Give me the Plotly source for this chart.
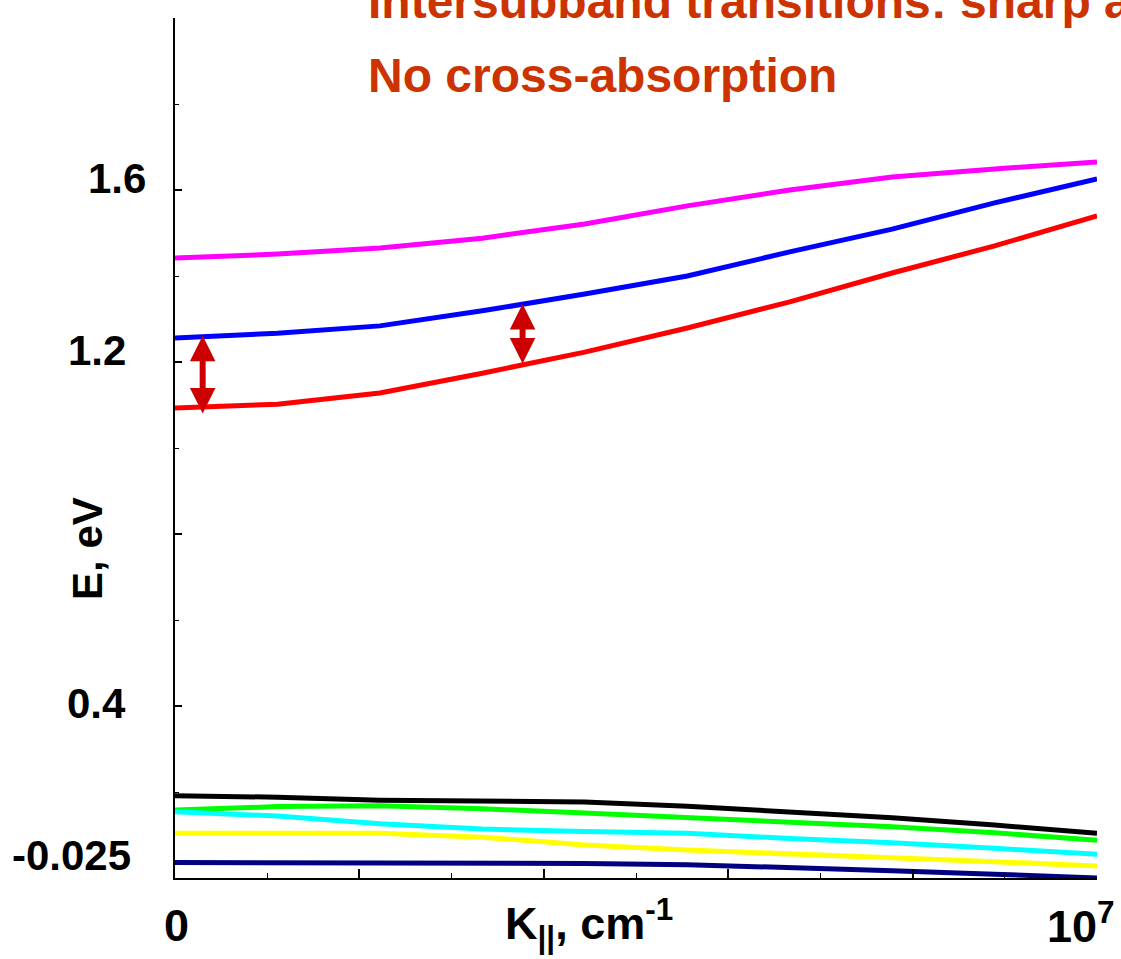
import plotly.graph_objects as go

# In-plane wave vector K|| (cm^-1)
k_vals = [0, 1.111e6, 2.222e6, 3.333e6, 4.444e6, 5.556e6, 6.667e6, 7.778e6, 8.889e6, 1.0e7]

# Conduction subbands (eV, plot scale)
e_magenta = [1.442, 1.451, 1.465, 1.488, 1.521, 1.563, 1.600, 1.630, 1.649, 1.665]
e_blue = [1.256, 1.267, 1.284, 1.319, 1.358, 1.400, 1.456, 1.509, 1.570, 1.626]
e_red = [1.093, 1.102, 1.128, 1.174, 1.223, 1.279, 1.340, 1.407, 1.470, 1.540]

# Valence subbands (eV, plot scale)
e_black = [0.191, 0.188, 0.181, 0.179, 0.177, 0.167, 0.154, 0.140, 0.123, 0.104]
e_green = [0.158, 0.166, 0.168, 0.161, 0.151, 0.140, 0.131, 0.119, 0.105, 0.088]
e_cyan = [0.154, 0.144, 0.126, 0.114, 0.108, 0.104, 0.092, 0.082, 0.069, 0.055]
e_yellow = [0.104, 0.104, 0.104, 0.095, 0.077, 0.065, 0.055, 0.047, 0.038, 0.028]
e_navy = [0.036, 0.036, 0.036, 0.035, 0.034, 0.031, 0.025, 0.017, 0.009, 0.000]

# Intersubband transitions: (K, upper E, lower E)
transitions = [(0.30e6, 1.261, 1.077), (3.77e6, 1.335, 1.193)]

# Tick labels placed beside the energy axis: (E, label, x offset px, y offset px)
y_labels = [(1.6, "1.6", -27, 12), (1.2, "1.2", -47, 12), (0.4, "0.4", -47, 3), (0.0, "-0.025", -42, 23)]

FONT = "Liberation Sans, Arial, sans-serif"

series = [
    (e_magenta, "#FF00FF"),
    (e_blue, "#0000FF"),
    (e_red, "#FF0000"),
    (e_black, "#000000"),
    (e_green, "#00FF00"),
    (e_cyan, "#00FFFF"),
    (e_yellow, "#FFFF00"),
    (e_navy, "#000080"),
]

fig = go.Figure()
for vals, col in series:
    fig.add_trace(go.Scatter(x=k_vals, y=vals, mode="lines",
                             line=dict(color=col, width=5), showlegend=False,
                             hoverinfo="skip"))

annotations = []
for k, e_hi, e_lo in transitions:
    annotations.append(dict(
        x=k, y=e_hi, ax=k, ay=e_lo, xref="x", yref="y", axref="x", ayref="y",
        text="", showarrow=True, arrowhead=2, startarrowhead=2, arrowside="end+start",
        arrowsize=0.85, startarrowsize=0.85, arrowwidth=6, arrowcolor="#CC0000",
        standoff=0, startstandoff=0))

for e, lab, dx, dy in y_labels:
    annotations.append(dict(
        x=0, y=e, xref="paper", yref="y", xanchor="right", yanchor="middle",
        xshift=dx, yshift=dy, text=lab, showarrow=False,
        font=dict(family=FONT, size=42, color="black", weight="bold")))

# x-axis end labels and title
annotations += [
    dict(x=0, y=0, xref="paper", yref="paper", xanchor="center", yanchor="middle",
         xshift=1, yshift=-47, text="0", showarrow=False,
         font=dict(family=FONT, size=45, color="black", weight="bold")),
    dict(x=1, y=0, xref="paper", yref="paper", xanchor="right", yanchor="middle",
         xshift=20, yshift=-45, text="10<sup>7</sup>", showarrow=False,
         font=dict(family=FONT, size=45, color="black", weight="bold")),
    dict(x=0, y=0, xref="paper", yref="paper", xanchor="left", yanchor="middle",
         xshift=328, yshift=-45, text="K<sub>||</sub>, cm<sup>-1</sup>", showarrow=False,
         font=dict(family=FONT, size=45, color="black", weight="bold")),
    dict(x=0, y=0.3826, xref="paper", yref="paper", xanchor="center", yanchor="middle",
         xshift=-87, text="E, eV", textangle=-90, showarrow=False,
         font=dict(family=FONT, size=42, color="black", weight="bold")),
    dict(x=0, y=1, xref="paper", yref="paper", xanchor="left", yanchor="middle",
         xshift=191, yshift=17, text="Intersubband transitions: sharp and strong",
         showarrow=False, font=dict(family=FONT, size=48, color="#CC3300", weight="bold")),
    dict(x=0, y=1, xref="paper", yref="paper", xanchor="left", yanchor="middle",
         xshift=191, yshift=-57, text="No cross-absorption",
         showarrow=False, font=dict(family=FONT, size=48, color="#CC3300", weight="bold")),
]

fig.update_layout(
    width=1121, height=959,
    margin=dict(l=175, r=24, t=18, b=81),
    paper_bgcolor="white", plot_bgcolor="white",
    annotations=annotations,
    xaxis=dict(range=[0, 1.0e7], showgrid=False, zeroline=False, showline=True,
               linecolor="black", linewidth=1.5, ticks="inside", ticklen=9,
               tickwidth=1.5, tickcolor="black", dtick=2e6, tick0=0,
               showticklabels=False,
               minor=dict(ticks="inside", ticklen=5, tickwidth=1.2, dtick=1e6,
                          tickcolor="black", showgrid=False)),
    yaxis=dict(range=[0, 2.0], showgrid=False, zeroline=False, showline=True,
               linecolor="black", linewidth=1.5, ticks="inside", ticklen=7,
               tickwidth=1.5, tickcolor="black", dtick=0.4, tick0=0,
               showticklabels=False,
               minor=dict(ticks="inside", ticklen=4, tickwidth=1.2, dtick=0.2,
                          tickcolor="black", showgrid=False)),
)

fig.write_html("out.html")
